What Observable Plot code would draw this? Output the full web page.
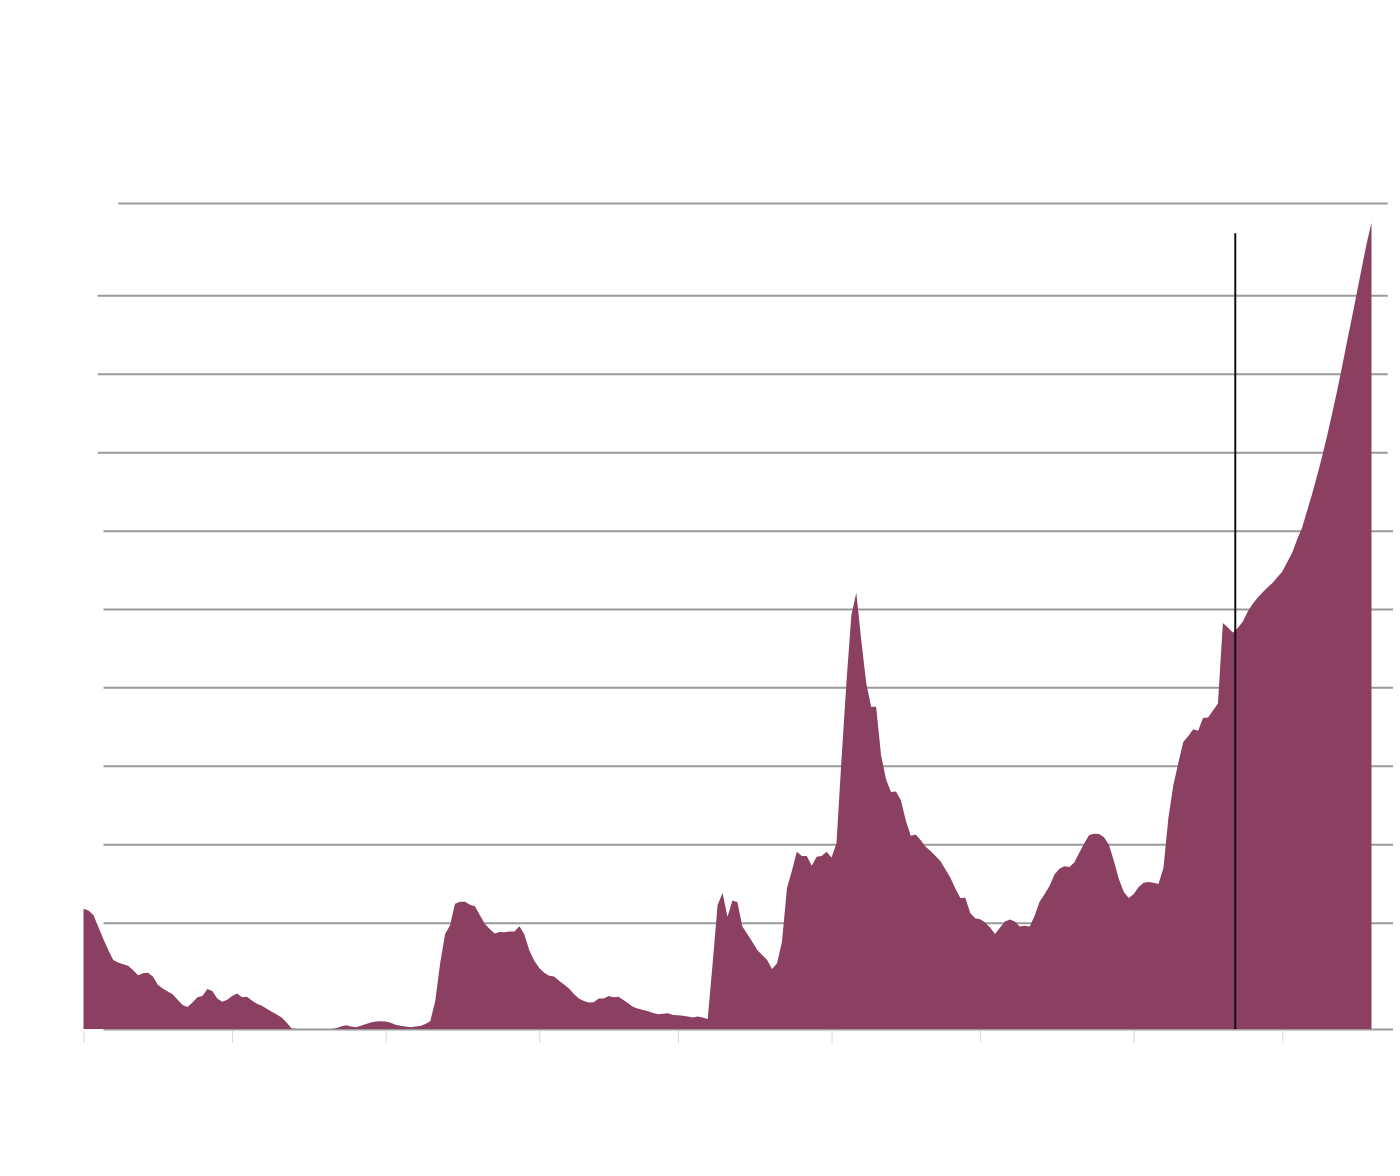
<!DOCTYPE html>
<html>
<head>
<meta charset="utf-8">
<script src="https://cdn.jsdelivr.net/npm/d3@7"></script>
<script src="https://cdn.jsdelivr.net/npm/@observablehq/plot@0.6"></script>
<style>
  html, body { margin: 0; padding: 0; background: #fff; }
  svg { display: block; }
</style>
</head>
<body>
<div id="chart"></div>
<script>
const years = [
  1790,1791,1792,1793,1794,1795,1796,1797,1798,1799,
  1800,1801,1802,1803,1804,1805,1806,1807,1808,1809,
  1810,1811,1812,1813,1814,1815,1816,1817,1818,1819,
  1820,1821,1822,1823,1824,1825,1826,1827,1828,1829,
  1830,1831,1832,1833,1834,1835,1836,1837,1838,1839,
  1840,1841,1842,1843,1844,1845,1846,1847,1848,1849,
  1850,1851,1852,1853,1854,1855,1856,1857,1858,1859,
  1860,1861,1862,1863,1864,1865,1866,1867,1868,1869,
  1870,1871,1872,1873,1874,1875,1876,1877,1878,1879,
  1880,1881,1882,1883,1884,1885,1886,1887,1888,1889,
  1890,1891,1892,1893,1894,1895,1896,1897,1898,1899,
  1900,1901,1902,1903,1904,1905,1906,1907,1908,1909,
  1910,1911,1912,1913,1914,1915,1916,1917,1918,1919,
  1920,1921,1922,1923,1924,1925,1926,1927,1928,1929,
  1930,1931,1932,1933,1934,1935,1936,1937,1938,1939,
  1940,1941,1942,1943,1944,1945,1946,1947,1948,1949,
  1950,1951,1952,1953,1954,1955,1956,1957,1958,1959,
  1960,1961,1962,1963,1964,1965,1966,1967,1968,1969,
  1970,1971,1972,1973,1974,1975,1976,1977,1978,1979,
  1980,1981,1982,1983,1984,1985,1986,1987,1988,1989,
  1990,1991,1992,1993,1994,1995,1996,1997,1998,1999,
  2000,2001,2002,2003,2004,2005,2006,2007,2008,2009,
  2010,2011,2012,2013,2014,2015,2016,2017,2018,2019,
  2020,2021,2022,2023,2024,2025,2026,2027,2028,2029,
  2030,2031,2032,2033,2034,2035,2036,2037,2038,2039,
  2040,2041,2042,2043,2044,2045,2046,2047,2048,2049,
  2050
];
const values = [
  29.1,28.7,27.6,24.7,21.8,19.1,16.7,16.1,15.7,15.3,
  14.3,13.0,13.5,13.6,12.7,10.7,9.8,9.1,8.4,7.1,
  5.8,5.3,6.4,7.7,8.0,9.7,9.2,7.4,6.6,7.1,
  8.0,8.6,7.7,7.8,6.9,6.1,5.6,4.9,4.2,3.5,
  2.8,1.6,0.1,0,0,0,0,0,0,0,
  0,0.2,0.6,0.9,0.6,0.4,0.8,1.2,1.6,1.8,
  1.9,1.8,1.5,1.0,0.8,0.6,0.4,0.6,0.7,1.2,
  1.9,6.8,16.0,23.0,25.1,30.3,30.8,30.8,30.1,29.7,
  27.6,25.5,24.2,23.1,23.5,23.4,23.6,23.6,24.9,22.9,
  19.0,16.5,14.8,13.6,12.9,12.7,11.7,10.8,9.8,8.5,
  7.4,6.8,6.4,6.5,7.4,7.4,8.0,7.7,7.8,7.0,
  6.2,5.3,4.9,4.6,4.3,3.9,3.6,3.7,3.8,3.4,
  3.3,3.2,3.0,2.8,3.0,2.8,2.4,15.9,30.0,32.9,
  27.2,31.1,30.7,24.8,23.0,21.1,19.1,17.9,16.7,14.5,
  15.9,21.1,34.1,38.3,42.9,41.9,41.9,39.5,41.7,41.9,
  42.9,41.5,45.0,65.0,83.8,100.2,105.6,94.2,83.8,78.0,
  78.0,66.3,60.5,57.4,57.5,55.4,50.4,46.8,47.1,45.7,
  44.1,43.1,41.9,40.6,38.6,36.6,34.0,31.7,31.8,28.1,
  26.8,26.6,25.8,24.6,23.0,24.5,26.0,26.5,26.0,24.8,
  25.0,24.8,27.4,30.8,32.6,34.6,37.4,38.8,39.4,39.2,
  40.3,42.7,44.9,47.0,47.3,47.2,46.4,44.6,40.7,36.3,
  33.2,31.7,32.7,34.4,35.4,35.6,35.4,35.1,39.0,51.1,
  59.1,64.4,69.5,70.9,72.6,72.2,75.3,75.4,77.1,78.8,
  98.3,97.2,96.0,97.1,98.6,101.0,102.9,104.4,105.7,106.9,
  108.0,109.4,110.8,113.1,115.3,118.6,121.4,125.5,129.5,133.9,
  138.5,143.4,148.7,154.2,160.0,166.1,172.0,178.0,184.1,190.1,
  195.2
];
const tickYears = [1790, 1820, 1851, 1882, 1910, 1941, 1971, 2002, 2032];
const gridTop = [200];
const gridUpper = [177.65, 158.67, 139.64];
const gridLower = [120.65, 101.69, 82.74, 63.75, 44.72, 25.74, 0];
const markerYear = 2022.4;
const markerTop = 192.7;

const data = years.map((year, i) => ({year, value: values[i]}));

const gridStyle = {stroke: "#9a9a9a", strokeWidth: 2, strokeOpacity: 1};

const chart = Plot.plot({
  width: 1400,
  height: 1176,
  marginLeft: 83.5,
  marginRight: 28.5,
  marginTop: 203,
  marginBottom: 147,
  style: {background: "#fff"},
  x: {domain: [1790, 2050], axis: null},
  y: {domain: [0, 200], axis: null},
  marks: [
    Plot.ruleY(gridTop, {...gridStyle, insetLeft: 34.8, insetRight: -16.2}),
    Plot.ruleY(gridUpper, {...gridStyle, insetLeft: 14.2, insetRight: -16.2}),
    Plot.ruleY(gridLower, {...gridStyle, insetLeft: 20, insetRight: -21.5}),
    Plot.axisX(tickYears, {tickSize: 12, tickFormat: () => "", stroke: "#d9d9d9", dy: 2, label: null}),
    Plot.areaY(data, {x: "year", y: "value", fill: "#8b4061"}),
    Plot.ruleX([markerYear], {y1: 0, y2: markerTop, stroke: "#111", strokeWidth: 2})
  ]
});
document.getElementById("chart").appendChild(chart);
</script>
</body>
</html>
